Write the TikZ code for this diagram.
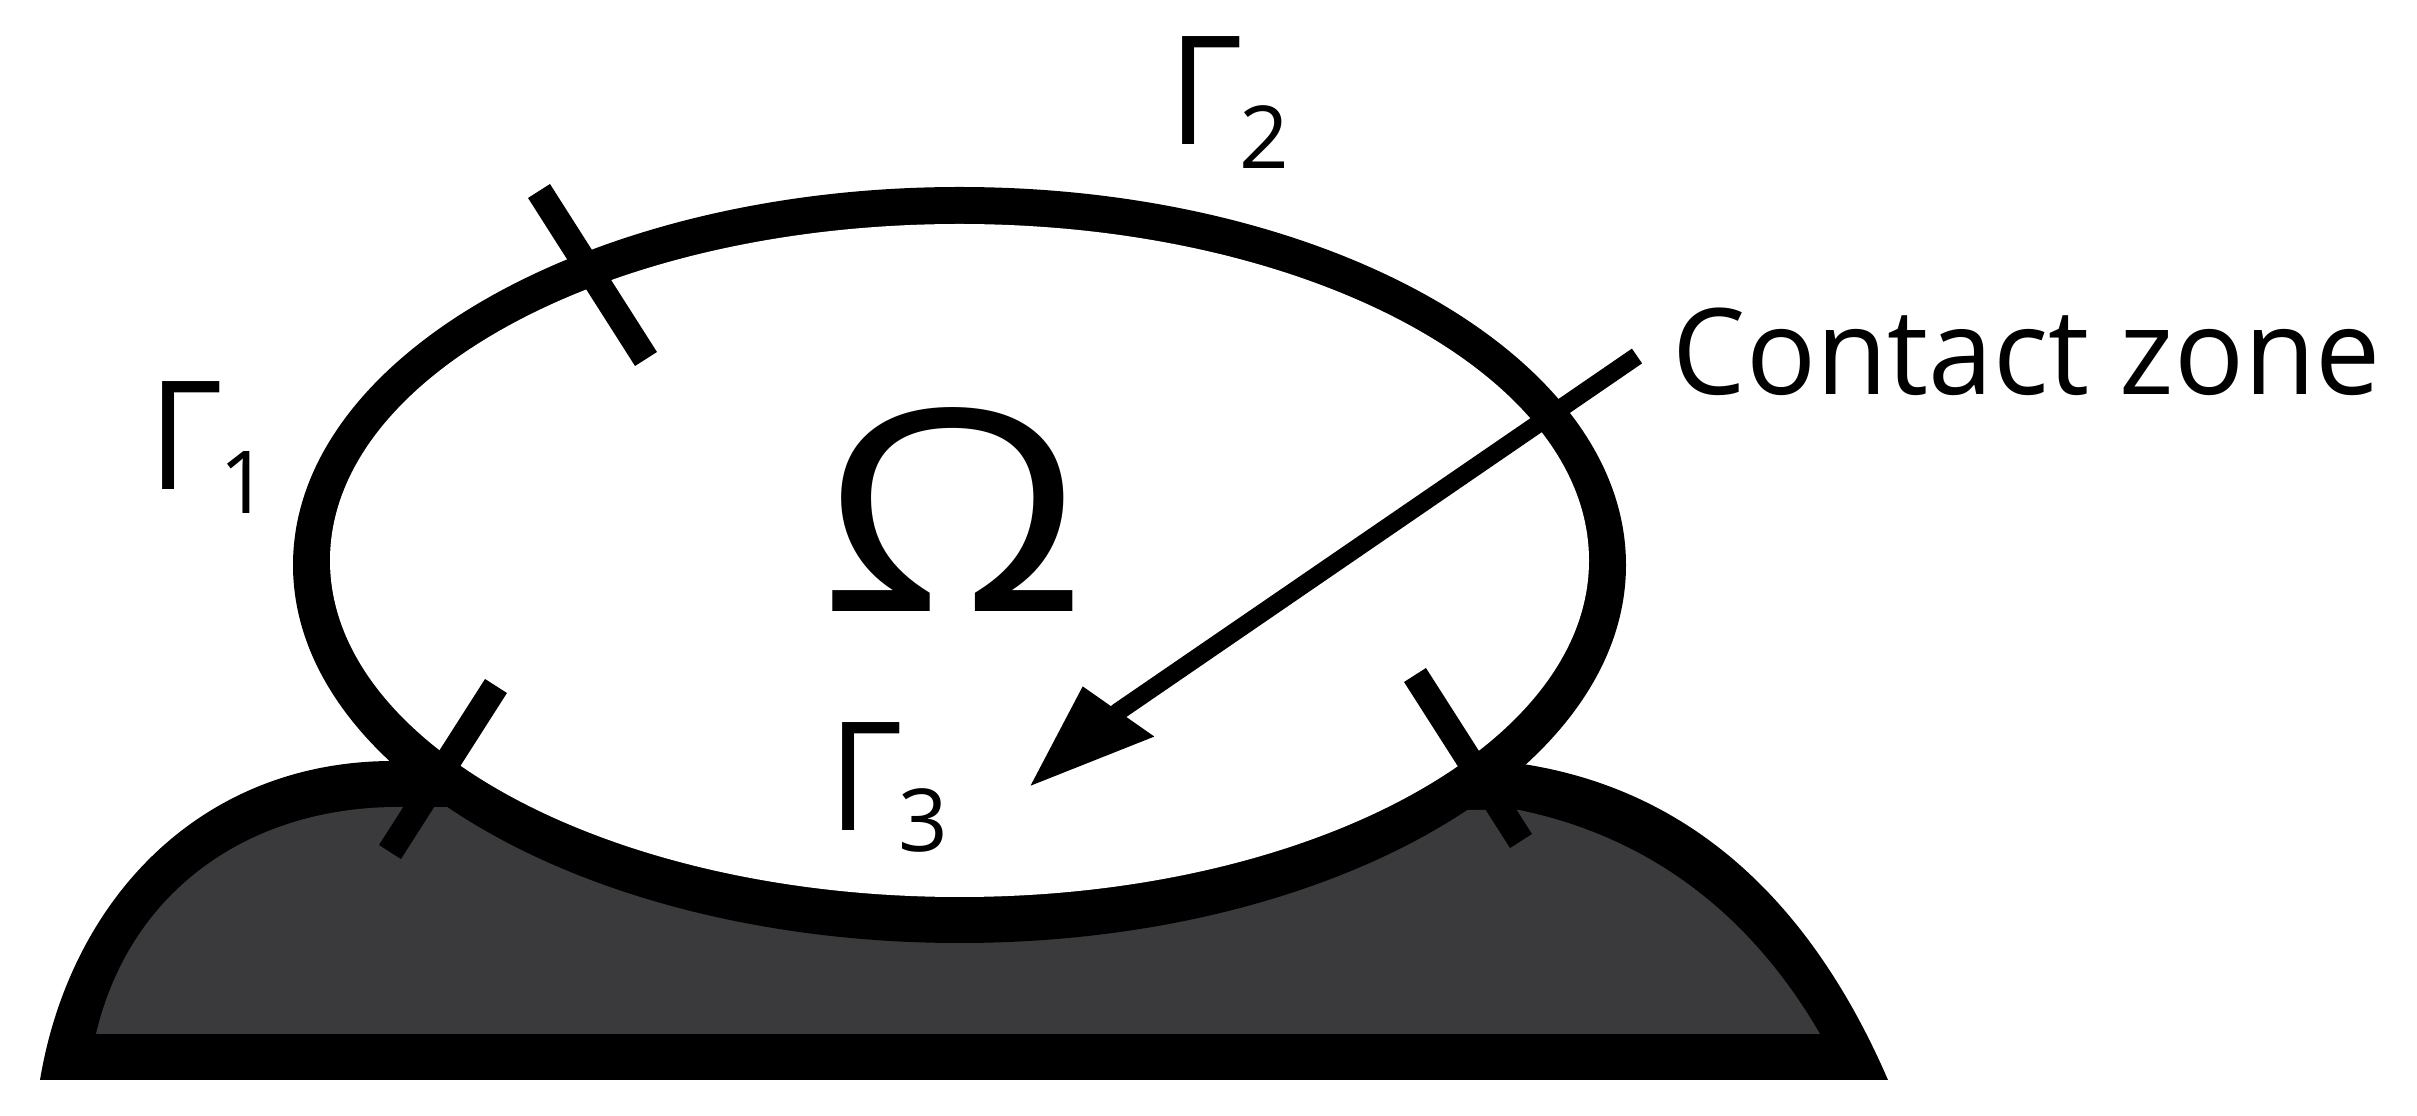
\documentclass[tikz,border=0pt]{standalone}
\usepackage{fontspec}
\setmainfont{Open Sans}
\usetikzlibrary{arrows.meta}
\definecolor{basefill}{HTML}{3A3A3C}
\tikzset{
  tickmark/.style={line width=7.4pt},
  gammaletter/.style={anchor=base west, inner sep=0pt, xscale=0.95, transform shape, font=\fontsize{43}{50}\selectfont},
  gammaindex/.style={anchor=base west, inner sep=0pt, font=\fontsize{24.7}{28}\selectfont},
}

\begin{document}
\begin{tikzpicture}[x=0.01cm, y=-0.01cm]
\useasboundingbox (0, 0) rectangle (2417, 1116);
\fill[black] (40, 1080) .. controls (70, 900) and (200, 761) .. (393, 761) -- (1523, 764) .. controls (1690, 790) and (1810, 900) .. (1888, 1080) -- cycle;
\fill[basefill] (96, 1034) .. controls (130, 890) and (250, 807) .. (398, 807) -- (1519, 810) .. controls (1640, 835) and (1745, 905) .. (1820, 1034) -- cycle;
\fill[black] (959.5, 565) ellipse [x radius=666.5, y radius=378];
\fill[white] (959.5, 560.5) ellipse [x radius=629.5, y radius=336.5];
\draw[tickmark] (539, 191) -- (646, 359);
\draw[tickmark] (496, 686) -- (390, 852);
\draw[tickmark] (1415, 675) -- (1521, 841);
\node[gammaletter] (G1) at (148, 490) {Γ};
\node[gammaindex] (I1) at (219, 514) {1};
\node[gammaletter] (G2) at (1168, 145) {Γ};
\node[gammaindex] (I2) at (1239, 169) {2};
\node[gammaletter] (G3) at (828, 831) {Γ};
\node[gammaindex] (I3) at (898, 852) {3};
\node[anchor=base, inner sep=0pt, xscale=1.21, transform shape, font=\fontsize{80}{90}\selectfont] (O) at (953, 612) {Ω};
\node[anchor=base west, inner sep=0pt, xscale=0.972, transform shape, font=\fontsize{34}{40}\selectfont] (C) at (1672, 395) {Contact zone};
\coordinate (A) at (1637, 356);
\coordinate (M) at (1118.5, 711.5);
\coordinate (B) at (1029, 787);
\draw[line width=5.1pt, -{Triangle[length=33.3pt, width=22.5pt, slant=-0.265]}] (A) -- (M) -- (B);
\end{tikzpicture}
\end{document}
